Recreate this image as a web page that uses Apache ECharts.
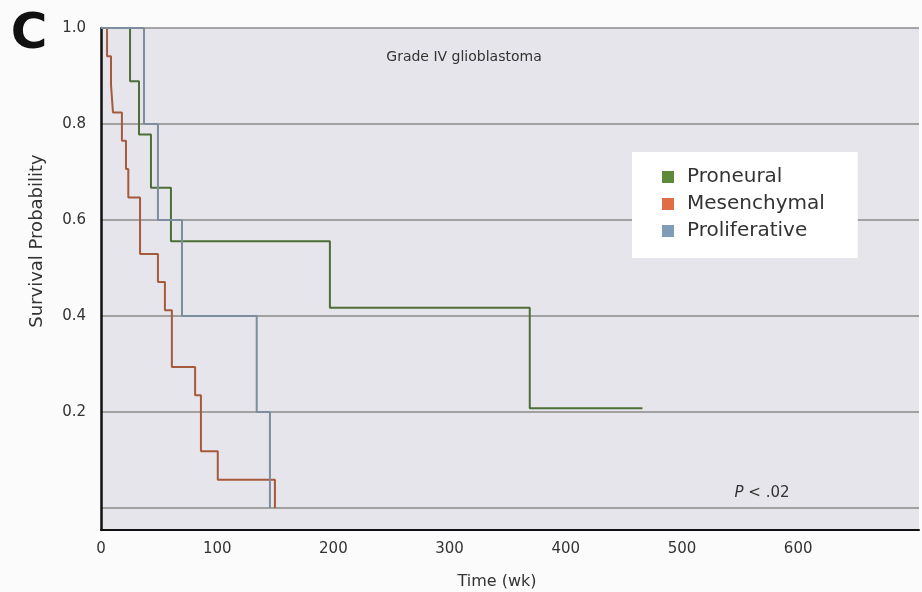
<!DOCTYPE html>
<html>
<head>
<meta charset="utf-8">
<script src="https://cdn.jsdelivr.net/npm/echarts@6/dist/echarts.min.js"></script>
<style>
html,body{margin:0;padding:0;background:#fbfbfb;}
#chart{width:922px;height:592px;}
</style>
</head>
<body>
<div id="chart"></div>
<script>
// Kaplan-Meier step data (time in weeks, survival probability after each event)
const seriesNames = ['Proneural', 'Mesenchymal', 'Proliferative'];
const proneuralWeeks = [0, 25, 32.7, 43, 60.2, 197, 369, 466];
const proneuralSurv = [1, 0.889, 0.778, 0.667, 0.556, 0.417, 0.208, 0.208];
const mesenchymalWeeks = [0, 5.2, 8.6, 10.3, 18, 21.5, 23.5, 33.6, 49, 55, 61, 81, 86, 100.5, 149.7];
const mesenchymalSurv = [1, 0.941, 0.882, 0.824, 0.765, 0.706, 0.647, 0.529, 0.471, 0.412, 0.294, 0.235, 0.118, 0.059, 0];
const proliferativeWeeks = [0, 37, 49, 69.7, 134, 145.4];
const proliferativeSurv = [1, 0.8, 0.6, 0.4, 0.2, 0];
const xTickLabels = [0, 100, 200, 300, 400, 500, 600];
const yTickLabels = [0.2, 0.4, 0.6, 0.8, 1.0];

function pairs(xs, ys) { return xs.map((x, i) => [x, ys[i]]); }

const legendColors = ['#5c8a3a', '#df6e45', '#7f9db8'];
const lineColors = ['#4d6f37', '#a65a3c', '#7d8d9d'];
const FONT = 'DejaVu Sans';

const chart = echarts.init(document.getElementById('chart'));
const dataSets = [pairs(proneuralWeeks, proneuralSurv), pairs(mesenchymalWeeks, mesenchymalSurv), pairs(proliferativeWeeks, proliferativeSurv)];

chart.setOption({
  backgroundColor: '#fbfbfb',
  animation: false,
  grid: { left: 101, top: 28, width: 819, height: 502, show: true, backgroundColor: '#e6e5eb', borderWidth: 0 },
  xAxis: {
    type: 'value', min: 0, max: 704, interval: 100,
    axisLine: { show: true, onZero: false, lineStyle: { color: '#111', width: 2 } },
    axisTick: { show: false },
    splitLine: { show: false },
    axisLabel: {
      margin: 12, fontSize: 15, fontFamily: FONT, color: '#333',
      formatter: v => xTickLabels.indexOf(v) >= 0 ? String(v) : ''
    }
  },
  yAxis: {
    type: 'value', min: -0.0458, max: 1, splitNumber: 5,
    axisLine: { show: true, onZero: false, lineStyle: { color: '#111', width: 2.5 } },
    axisTick: { show: false },
    splitLine: { show: true, lineStyle: { color: '#8a8a8a', width: 1.6 } },
    axisLabel: {
      margin: 15, fontSize: 15, fontFamily: FONT, color: '#333',
      formatter: v => {
        const m = yTickLabels.find(t => Math.abs(t - v) < 1e-6);
        return m !== undefined ? m.toFixed(1) : '';
      }
    }
  },
  legend: {
    data: seriesNames,
    orient: 'vertical', left: 632, top: 152,
    backgroundColor: '#ffffff',
    padding: [15, 33, 17, 30],
    itemWidth: 12, itemHeight: 12, itemGap: 7,
    icon: 'rect',
    textStyle: { fontSize: 20, fontFamily: FONT, color: '#333', lineHeight: 20, padding: [0, 0, 0, 8] }
  },
  series: seriesNames.map((name, i) => ({
    name: name,
    type: 'line',
    step: 'end',
    data: dataSets[i],
    symbol: 'none',
    z: 5,
    itemStyle: { color: legendColors[i] },
    lineStyle: { color: lineColors[i], width: 2 }
  })),
  graphic: [
    { type: 'text', x: 29, y: 35, style: { text: 'C', fontSize: 50, fontWeight: 'bold', fontFamily: FONT, fill: '#111', align: 'center', verticalAlign: 'middle' } },
    { type: 'text', x: 464, y: 57, z: 10, style: { text: 'Grade IV glioblastoma', fontSize: 14, fontFamily: FONT, fill: '#333', align: 'center', verticalAlign: 'middle' } },
    { type: 'text', x: 762, y: 493, z: 10, style: { text: '{i|P} < .02', fontSize: 15, fontFamily: FONT, fill: '#333', align: 'center', verticalAlign: 'middle', rich: { i: { fontStyle: 'italic', fontSize: 15, fontFamily: FONT, fill: '#333' } } } },
    { type: 'text', x: 37, y: 241, rotation: Math.PI / 2, style: { text: 'Survival Probability', fontSize: 18, fontFamily: FONT, fill: '#333', align: 'center', verticalAlign: 'middle' } },
    { type: 'text', x: 497, y: 582, style: { text: 'Time (wk)', fontSize: 16, fontFamily: FONT, fill: '#333', align: 'center', verticalAlign: 'middle' } }
  ]
});
</script>
</body>
</html>
